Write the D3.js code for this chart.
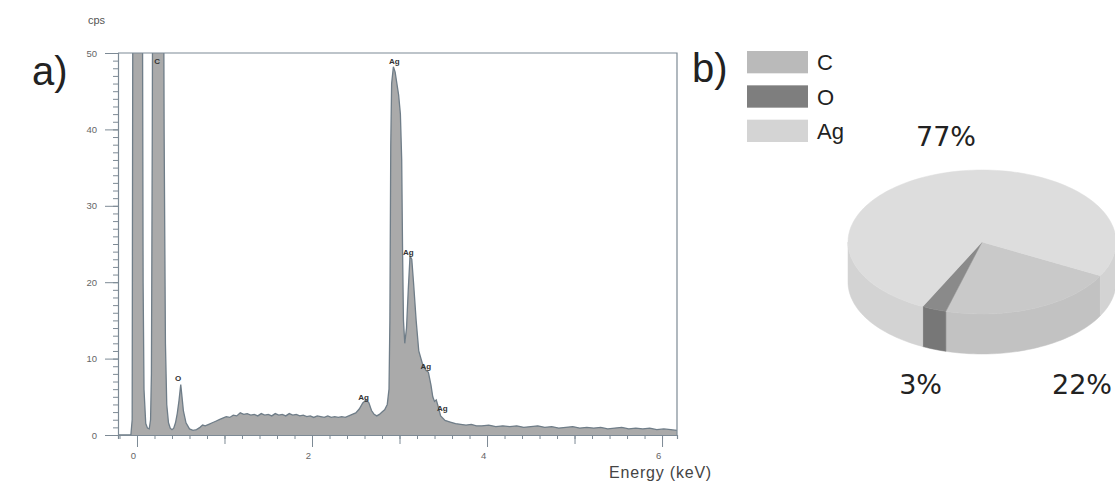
<!DOCTYPE html>
<html>
<head>
<meta charset="utf-8">
<script src="https://cdn.jsdelivr.net/npm/d3@7"></script>
<style>
	body { margin: 0; background: #fff; }
	text { font-family: "Liberation Sans", Arial, sans-serif; }
</style>
</head>
<body>
<div id="app"></div>
<script>
///////////////////////////////////////////////////////////////////////////
//////////////////////////// data /////////////////////////////////////////
///////////////////////////////////////////////////////////////////////////

// EDS spectrum: [energy keV, cps]
const spectrum = [
	[-0.22, 0], [-0.07, 0], [-0.055, 2], [-0.05, 40], [-0.04, 110], [0.0, 140],
	[0.04, 120], [0.06, 70], [0.07, 20], [0.08, 6], [0.1, 1.5], [0.12, 0.9],
	[0.14, 0.8], [0.155, 2], [0.165, 8], [0.175, 40], [0.19, 120], [0.24, 160],
	[0.29, 110], [0.31, 40], [0.325, 12], [0.34, 4], [0.36, 1.6], [0.38, 0.9],
	[0.4, 0.7], [0.42, 0.9], [0.44, 1.6], [0.46, 2.8], [0.48, 4.5], [0.5, 6.6],
	[0.51, 5.5], [0.53, 3.2], [0.56, 1.6], [0.6, 0.8], [0.64, 0.6], [0.68, 0.7],
	[0.72, 1.0], [0.75, 1.3], [0.78, 1.2], [0.82, 1.4], [0.86, 1.6], [0.9, 1.8],
	[0.94, 2.0], [0.98, 2.2], [1.02, 2.4], [1.06, 2.3], [1.1, 2.6], [1.14, 2.5],
	[1.18, 2.9], [1.22, 2.7], [1.26, 2.8], [1.3, 2.6], [1.34, 2.7], [1.38, 2.5],
	[1.42, 2.8], [1.46, 2.6], [1.5, 2.7], [1.54, 2.5], [1.58, 2.8], [1.62, 2.6],
	[1.66, 2.7], [1.7, 2.5], [1.74, 2.8], [1.78, 2.6], [1.82, 2.7], [1.86, 2.5],
	[1.9, 2.6], [1.94, 2.4], [1.98, 2.5], [2.02, 2.3], [2.06, 2.5], [2.1, 2.4],
	[2.14, 2.3], [2.18, 2.5], [2.22, 2.3], [2.26, 2.4], [2.3, 2.3], [2.34, 2.4],
	[2.38, 2.3], [2.42, 2.5], [2.46, 2.7], [2.5, 2.9], [2.54, 3.4], [2.58, 4.2],
	[2.62, 4.6], [2.65, 4.2], [2.68, 3.2], [2.71, 2.7], [2.74, 2.5], [2.77, 2.7],
	[2.8, 3.0], [2.83, 3.3], [2.86, 4.0], [2.88, 6], [2.89, 15], [2.9, 38],
	[2.91, 46], [2.93, 48.2], [2.95, 47.5], [2.97, 46], [2.99, 44.5], [3.01, 42],
	[3.025, 36], [3.035, 24], [3.045, 15], [3.06, 12], [3.08, 14], [3.1, 19],
	[3.12, 23.4], [3.14, 23], [3.16, 20], [3.19, 15], [3.22, 11], [3.26, 9.4],
	[3.3, 8.5], [3.33, 8.2], [3.36, 6.5], [3.38, 5], [3.4, 4.4], [3.42, 4.6],
	[3.44, 3.8], [3.47, 2.5], [3.52, 1.9], [3.58, 1.7], [3.64, 1.5], [3.7, 1.4],
	[3.76, 1.3], [3.82, 1.4], [3.88, 1.2], [3.94, 1.2], [4.02, 1.3], [4.1, 1.1],
	[4.18, 1.2], [4.26, 1.1], [4.34, 1.2], [4.42, 1.0], [4.5, 1.1], [4.58, 1.2],
	[4.66, 1.0], [4.74, 1.1], [4.82, 0.9], [4.9, 1.0], [4.98, 1.1], [5.06, 0.9],
	[5.14, 1.0], [5.22, 0.9], [5.3, 1.0], [5.38, 0.8], [5.46, 0.9], [5.54, 1.0],
	[5.62, 0.8], [5.7, 0.9], [5.78, 0.8], [5.86, 0.9], [5.94, 0.7], [6.02, 0.8],
	[6.1, 0.7], [6.17, 0.6]
];

// peak labels: element, energy, cps (label baseline)
const peakNames = ["C", "O", "Ag", "Ag", "Ag", "Ag", "Ag"];
const peakEnergy = [0.23, 0.47, 2.94, 3.1, 2.59, 3.3, 3.49];
const peakCps = [48.6, 7.1, 48.6, 23.6, 4.6, 8.6, 3.1];

const yTicks = [0, 10, 20, 30, 40, 50];
const xTicks = [0, 2, 4, 6];

// composition (pie)
const elements = ["C", "O", "Ag"];
const percents = [22, 3, 77];
const pctLabels = ["22%", "3%", "77%"];

///////////////////////////////////////////////////////////////////////////
//////////////////////////// Set up svg ///////////////////////////////////
///////////////////////////////////////////////////////////////////////////

const width = 1115;
const height = 484;
const plot = { left: 118, right: 677, top: 53, bottom: 435 };
const axisColor = "#7d8a95";

const svg = d3.select("#app")
	.append("svg")
	.attr("width", width)
	.attr("height", height);

///////////////////////////////////////////////////////////////////////////
//////////////////////////// a) spectrum //////////////////////////////////
///////////////////////////////////////////////////////////////////////////

const xScale = d3.scaleLinear()
	.domain([-0.217, 6.171])
	.range([plot.left, plot.right]);
const yScale = d3.scaleLinear()
	.domain([0, 50])
	.range([plot.bottom, plot.top]);

svg.append("clipPath")
	.attr("id", "clip")
	.append("rect")
	.attr("x", plot.left)
	.attr("y", plot.top)
	.attr("width", plot.right - plot.left)
	.attr("height", plot.bottom - plot.top);

const area = d3.area()
	.x((d) => xScale(d[0]))
	.y0(yScale(0))
	.y1((d) => yScale(d[1]));
const line = d3.line()
	.x((d) => xScale(d[0]))
	.y((d) => yScale(d[1]));

const spec = svg.append("g").attr("clip-path", "url(#clip)");
spec.append("path")
	.attr("d", area(spectrum))
	.attr("fill", "#aaaaaa");
spec.append("path")
	.attr("d", line(spectrum))
	.attr("fill", "none")
	.attr("stroke", "#6f7d88")
	.attr("stroke-width", 1.3);

// frame (top + right)
svg.append("path")
	.attr("d", `M${plot.left},${plot.top}H${plot.right}V${plot.bottom}`)
	.attr("fill", "none")
	.attr("stroke", axisColor)
	.attr("stroke-width", 1.2);

// y axis: minor ticks every 1 cps, labelled every 10
const yAxis = svg.append("g")
	.attr("transform", `translate(${plot.left},0)`);
yAxis.append("g")
	.call(d3.axisLeft(yScale).tickValues(d3.range(0, 51, 1)).tickSize(5).tickFormat(""))
	.call((g) => g.selectAll("line").attr("stroke", axisColor))
	.call((g) => g.select(".domain").attr("stroke", axisColor).attr("stroke-width", 1.2));
yAxis.append("g")
	.call(d3.axisLeft(yScale).tickValues(yTicks).tickSize(13).tickPadding(8))
	.call((g) => g.select(".domain").remove())
	.call((g) => g.selectAll("line").attr("stroke", axisColor))
	.call((g) => g.selectAll("text")
		.attr("fill", "#666")
		.style("font-size", "9.5px")
		.style("font-family", "Liberation Sans, Arial, sans-serif"));

// x axis: minor every 0.2, medium every 1, labelled every 2
const xAxis = svg.append("g")
	.attr("transform", `translate(0,${plot.bottom})`);
xAxis.append("g")
	.call(d3.axisBottom(xScale).tickValues(d3.range(-0.2, 6.17, 0.2)).tickSize(4).tickFormat(""))
	.call((g) => g.selectAll("line").attr("stroke", axisColor))
	.call((g) => g.select(".domain").attr("stroke", axisColor).attr("stroke-width", 1.2));
xAxis.append("g")
	.call(d3.axisBottom(xScale).tickValues([1, 3, 5]).tickSize(9).tickFormat(""))
	.call((g) => g.select(".domain").remove())
	.call((g) => g.selectAll("line").attr("stroke", axisColor));
xAxis.append("g")
	.call(d3.axisBottom(xScale).tickValues(xTicks).tickSize(12).tickPadding(5).tickFormat(d3.format("d")))
	.call((g) => g.select(".domain").remove())
	.call((g) => g.selectAll("line").attr("stroke", axisColor))
	.call((g) => g.selectAll("text")
		.attr("dx", -4)
		.attr("fill", "#666")
		.style("font-size", "9.5px")
		.style("font-family", "Liberation Sans, Arial, sans-serif"));

// peak labels
svg.selectAll("text.peak")
	.data(peakNames)
	.enter()
	.append("text")
	.attr("class", "peak")
	.attr("x", (d, i) => xScale(peakEnergy[i]))
	.attr("y", (d, i) => yScale(peakCps[i]))
	.attr("text-anchor", "middle")
	.attr("fill", "#333")
	.style("font-size", "8px")
	.style("font-weight", "bold")
	.text((d) => d);

// axis titles
svg.append("text")
	.attr("x", 88)
	.attr("y", 24)
	.attr("fill", "#555")
	.style("font-size", "11px")
	.text("cps");
svg.append("text")
	.attr("x", 712)
	.attr("y", 478)
	.attr("text-anchor", "end")
	.attr("fill", "#444")
	.style("font-size", "16px")
	.style("letter-spacing", "0.8px")
	.text("Energy (keV)");

svg.append("text")
	.attr("x", 32)
	.attr("y", 85)
	.attr("fill", "#222")
	.style("font-size", "40px")
	.text("a)");

///////////////////////////////////////////////////////////////////////////
//////////////////////////// b) 3d pie ////////////////////////////////////
///////////////////////////////////////////////////////////////////////////

svg.append("text")
	.attr("x", 692)
	.attr("y", 82)
	.attr("fill", "#222")
	.style("font-size", "40px")
	.text("b)");

const legendColor = d3.scaleOrdinal().domain(elements).range(["#bababa", "#7e7e7e", "#d4d4d4"]);
const topColor = d3.scaleOrdinal().domain(elements).range(["#c9c9c9", "#8a8a8a", "#dddddd"]);
const sideColor = d3.scaleOrdinal().domain(elements).range(["#c2c2c2", "#777777", "#d3d3d3"]);

const legendY = d3.scaleBand().domain(elements).range([51, 142]).paddingInner(0.35);
const legend = svg.selectAll("g.legend")
	.data(elements)
	.enter()
	.append("g")
	.attr("class", "legend")
	.attr("transform", (d) => `translate(747,${legendY(d)})`);
legend.append("rect")
	.attr("width", 61)
	.attr("height", legendY.bandwidth())
	.attr("fill", (d) => legendColor(d));
legend.append("text")
	.attr("x", 70)
	.attr("y", legendY.bandwidth() / 2 + 8)
	.attr("fill", "#222")
	.style("font-size", "22px")
	.text((d) => d);

const pie = { cx: 982, cy: 242, rx: 134, ry: 72, depth: 40 };
const deg = Math.PI / 180;
const slices = d3.pie()
	.sort(null)
	.startAngle(118 * deg)
	.endAngle(478 * deg)(percents);

// screen angle: 0 at 3 o'clock, clockwise
const rim = (a, dy) => [
	pie.cx + pie.rx * Math.cos(a - Math.PI / 2),
	pie.cy + dy + pie.ry * Math.sin(a - Math.PI / 2)
];

function rimPoints(a0, a1, dy) {
	const n = Math.max(2, Math.ceil((a1 - a0) / (2 * deg)));
	return d3.range(n + 1).map((k) => rim(a0 + ((a1 - a0) * k) / n, dy));
}

// side walls: only the front half (screen angle 0..pi => d3 angle pi/2..3pi/2)
const pieG = svg.append("g");
slices.forEach((s, i) => {
	[[Math.PI / 2, 1.5 * Math.PI], [2.5 * Math.PI, 3.5 * Math.PI]].forEach(([f0, f1]) => {
		const a0 = Math.max(s.startAngle, f0);
		const a1 = Math.min(s.endAngle, f1);
		if (a1 <= a0) return;
		const top = rimPoints(a0, a1, 0);
		const bottom = rimPoints(a0, a1, pie.depth).reverse();
		pieG.append("path")
			.attr("d", d3.line()(top.concat(bottom)) + "Z")
			.attr("fill", sideColor(elements[i]))
			.attr("stroke", sideColor(elements[i]))
			.attr("stroke-width", 0.5);
	});
});

// top faces
slices.forEach((s, i) => {
	const pts = [[pie.cx, pie.cy]].concat(rimPoints(s.startAngle, s.endAngle, 0));
	pieG.append("path")
		.attr("d", d3.line()(pts) + "Z")
		.attr("fill", topColor(elements[i]))
		.attr("stroke", topColor(elements[i]))
		.attr("stroke-width", 0.5);
});

// percentage labels
const pctX = [1112, 942, 976];
const pctY = [394, 394, 146];
svg.selectAll("text.pct")
	.data(pctLabels)
	.enter()
	.append("text")
	.attr("class", "pct")
	.attr("x", (d, i) => pctX[i])
	.attr("y", (d, i) => pctY[i])
	.attr("text-anchor", "end")
	.attr("fill", "#222")
	.style("font-family", "DejaVu Sans, sans-serif")
	.style("font-size", "27px")
	.text((d) => d);
</script>
</body>
</html>
